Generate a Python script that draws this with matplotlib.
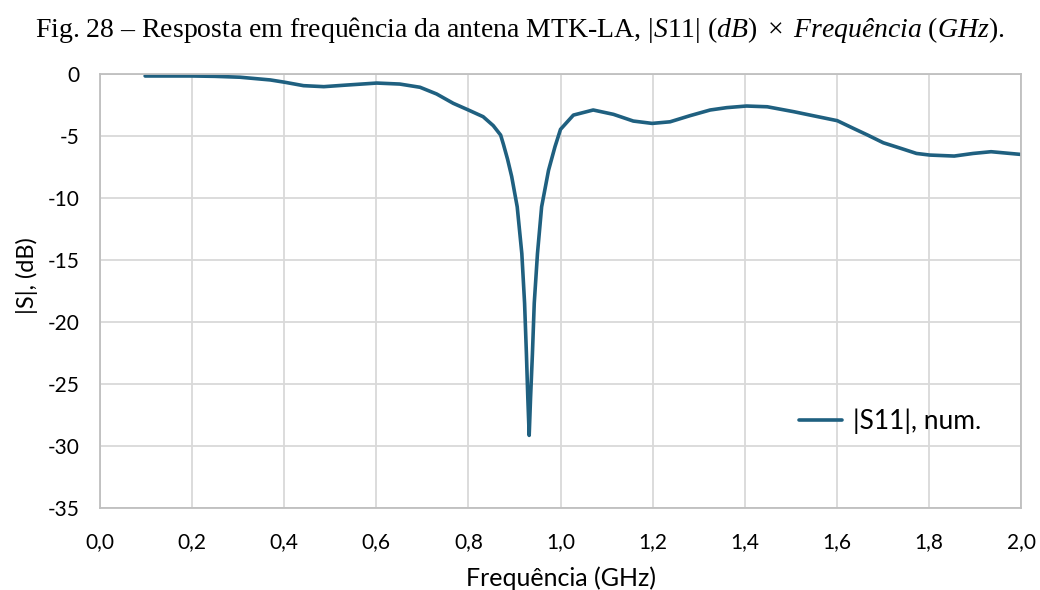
import matplotlib
matplotlib.use("Agg")
import matplotlib.pyplot as plt
from matplotlib.ticker import FuncFormatter

freq_ghz = [0.098, 0.20, 0.25, 0.304, 0.370, 0.402, 0.442, 0.486, 0.536, 0.601,
            0.651, 0.695, 0.731, 0.767, 0.800, 0.832, 0.854, 0.870, 0.876, 0.885,
            0.894, 0.906, 0.916, 0.922, 0.926, 0.929, 0.932, 0.935, 0.939, 0.943,
            0.950, 0.959, 0.974, 0.988, 1.000, 1.028, 1.071, 1.115, 1.158, 1.199,
            1.238, 1.281, 1.325, 1.361, 1.404, 1.449, 1.507, 1.542, 1.601, 1.636,
            1.667, 1.701, 1.739, 1.773, 1.802, 1.855, 1.896, 1.935, 2.000]
s11_db = [-0.20, -0.20, -0.23, -0.30, -0.52, -0.71, -0.98, -1.06, -0.93, -0.77,
          -0.85, -1.11, -1.65, -2.40, -2.94, -3.48, -4.20, -4.96, -5.70, -6.90,
          -8.30, -10.74, -14.50, -18.50, -22.60, -26.10, -29.15, -26.10, -22.60, -18.50,
          -14.50, -10.74, -7.80, -5.90, -4.50, -3.35, -2.94, -3.29, -3.83, -4.02,
          -3.89, -3.40, -2.94, -2.75, -2.62, -2.68, -3.08, -3.35, -3.80, -4.42,
          -4.96, -5.58, -6.03, -6.44, -6.57, -6.65, -6.44, -6.30, -6.52]

x_ticks = [0.0, 0.2, 0.4, 0.6, 0.8, 1.0, 1.2, 1.4, 1.6, 1.8, 2.0]
y_ticks = [0, -5, -10, -15, -20, -25, -30, -35]

line_color = "#1f6080"
label_font = "Lato"

plt.rcParams["mathtext.fontset"] = "custom"
plt.rcParams["mathtext.rm"] = "Liberation Serif"
plt.rcParams["mathtext.it"] = "Liberation Serif:italic"

fig = plt.figure(figsize=(10.4, 5.9), dpi=100)
ax = fig.add_axes([100/1040, 1-508/590, 921/1040, 434.5/590])

ax.plot(freq_ghz, s11_db, color=line_color, lw=2.6, label="|S11|, num.",
        solid_joinstyle="round", solid_capstyle="round")

ax.set_xlim(0, 2.0)
ax.set_ylim(-35, 0)
ax.set_xticks(x_ticks)
ax.set_yticks(y_ticks)
ax.xaxis.set_major_formatter(FuncFormatter(lambda v, p: f"{v:.1f}".replace(".", ",")))
ax.yaxis.set_major_formatter(FuncFormatter(lambda v, p: f"{v:.0f}"))
ax.grid(True, color="#d9d9d9", lw=1.3)
ax.set_axisbelow(True)
for s in ax.spines.values():
    s.set_color("#bfbfbf")
    s.set_linewidth(1.3)
ax.tick_params(length=0, labelsize=15, colors="#000000")
ax.tick_params(axis="x", pad=17)
ax.tick_params(axis="y", pad=15)
for t in ax.get_xticklabels() + ax.get_yticklabels():
    t.set_fontfamily(label_font)

ax.set_xlabel("Frequência (GHz)", fontsize=18, fontfamily=label_font)
ax.set_ylabel("|S|, (dB)", fontsize=17, fontfamily=label_font)
ax.xaxis.set_label_coords(0.5, (508-578)/434.5)
ax.xaxis.label.set_va("center")
ax.yaxis.set_label_coords((27-100)/921, (508-276)/434.5)
ax.yaxis.label.set_va("center")

leg = ax.legend(loc="center left", bbox_to_anchor=(0.733, 0.2), frameon=False,
                prop={"family": label_font, "size": 19}, handlelength=1.65,
                handletextpad=0.4)

fig.text(0.5, 1-30/590,
         r"Fig. 28 – Resposta em frequência da antena MTK-LA, $|S11|\ (dB)\ \times\ Frequência\ (GHz)$.",
         ha="center", va="center", fontsize=20, fontfamily="Liberation Serif")

fig.savefig("out.png", dpi=100)
